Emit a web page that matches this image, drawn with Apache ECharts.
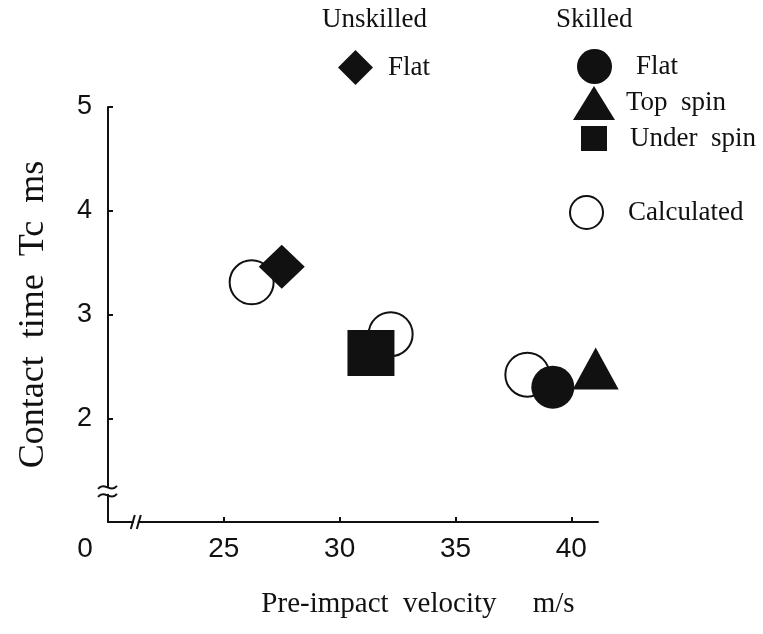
<!DOCTYPE html>
<html>
<head>
<meta charset="utf-8">
<script src="https://cdn.jsdelivr.net/npm/echarts@6/dist/echarts.min.js"></script>
<style>
  html, body { margin: 0; padding: 0; background: #fff; }
  #chart { width: 763px; height: 634px; }
</style>
</head>
<body>
<div id="chart"></div>
<script>
//
// Contact time Tc against pre-impact velocity
//
const calculated = [[26.2, 3.31], [32.2, 2.81], [38.1, 2.42]]
const unskilledFlat = [[27.5, 3.46]]
const skilledFlat = [[39.2, 2.30]]
const skilledTopSpin = [[41.05, 2.48]]
const skilledUnderSpin = [[31.35, 2.63]]

// x axis is broken below 25, its origin (20) is labelled 0
const xLabelValues = [20, 25, 30, 35, 40]
const xTickValues = [25, 30, 35, 40]
const yTickValues = [2, 3, 4, 5]

const legendText = {
  'Unskilled flat': 'Flat',
  'Skilled flat': 'Flat',
  'Top spin': 'Top  spin',
  'Under spin': 'Under  spin',
  Calculated: 'Calculated'
}

const ink = '#111'
const serif = 'Liberation Serif'
const sans = 'Liberation Sans'

const el = document.getElementById('chart')
const chart = echarts.init(el, null, { renderer: 'canvas', width: 763, height: 634 })

// one legend per entry so every icon keeps its own size
function legendEntry (name, icon, left, top, w, h, gap, itemStyle) {
  return {
    data: [{ name: name, icon: icon }],
    left: left,
    top: top,
    padding: 0,
    itemWidth: w,
    itemHeight: h,
    selectedMode: false,
    itemStyle: itemStyle || { color: ink, borderWidth: 0 },
    formatter: n => legendText[n],
    textStyle: { fontFamily: serif, fontSize: 27, color: ink, padding: [0, 0, 0, gap] }
  }
}

const option = {
  backgroundColor: '#fff',
  animation: false,
  title: [
    { text: 'Unskilled', left: 322, top: 6, padding: 0, textStyle: { fontFamily: serif, fontSize: 27, fontWeight: 'normal', color: ink } },
    { text: 'Skilled', left: 556, top: 6, padding: 0, textStyle: { fontFamily: serif, fontSize: 27, fontWeight: 'normal', color: ink } }
  ],
  legend: [
    legendEntry('Unskilled flat', 'diamond', 338, 50, 35, 35, 10),
    legendEntry('Skilled flat', 'circle', 577, 49, 35, 35, 19),
    legendEntry('Top spin', 'triangle', 573, 86, 42, 34, 6),
    legendEntry('Under spin', 'rect', 581, 125, 26, 25, 18),
    legendEntry('Calculated', 'circle', 569, 195, 33, 33, 20, { color: '#fff', borderColor: ink, borderWidth: 2 })
  ],
  grid: { left: 108, right: 165, top: 107, bottom: 112 },
  xAxis: {
    type: 'value',
    min: 20,
    max: 41.15,
    splitLine: { show: false },
    axisLine: { lineStyle: { color: ink, width: 2 } },
    axisTick: { inside: true, length: 5, customValues: xTickValues, lineStyle: { color: ink, width: 2 } },
    axisLabel: {
      customValues: xLabelValues,
      margin: 13,
      fontFamily: sans,
      fontSize: 28,
      color: ink,
      formatter: v => v === 20 ? '{o|0}' : String(v),
      rich: { o: { fontFamily: sans, fontSize: 28, color: ink, padding: [0, 46, 0, 0] } }
    },
    name: 'Pre-impact  velocity     m/s',
    nameLocation: 'middle',
    nameGap: 68,
    nameTextStyle: { fontFamily: serif, fontSize: 29, color: ink, padding: [0, 0, 0, 130] }
  },
  yAxis: {
    type: 'value',
    min: 1,
    max: 5,
    splitLine: { show: false },
    axisLine: { lineStyle: { color: ink, width: 2 } },
    axisTick: { inside: true, length: 5, customValues: yTickValues, lineStyle: { color: ink, width: 2 } },
    axisLabel: { customValues: yTickValues, margin: 16, fontFamily: sans, fontSize: 27, color: ink },
    name: 'Contact  time  Tc  ms',
    nameLocation: 'middle',
    nameGap: 56,
    nameTextStyle: { fontFamily: serif, fontSize: 36, color: ink }
  },
  series: [
    {
      name: 'Calculated',
      type: 'scatter',
      data: calculated,
      symbol: 'circle',
      symbolSize: 44,
      z: 1,
      itemStyle: { color: '#fff', borderColor: ink, borderWidth: 2, opacity: 1 }
    },
    {
      name: 'Unskilled flat',
      type: 'scatter',
      data: unskilledFlat,
      symbol: 'diamond',
      symbolSize: [46, 44],
      z: 2,
      itemStyle: { color: ink, opacity: 1 }
    },
    {
      name: 'Skilled flat',
      type: 'scatter',
      data: skilledFlat,
      symbol: 'circle',
      symbolSize: 43,
      z: 2,
      itemStyle: { color: ink, opacity: 1 }
    },
    {
      name: 'Top spin',
      type: 'scatter',
      data: skilledTopSpin,
      symbol: 'triangle',
      symbolSize: [46, 42],
      clip: false,
      z: 2,
      itemStyle: { color: ink, opacity: 1 }
    },
    {
      name: 'Under spin',
      type: 'scatter',
      data: skilledUnderSpin,
      symbol: 'rect',
      symbolSize: [47, 46],
      z: 2,
      itemStyle: { color: ink, opacity: 1 }
    }
  ]
}

chart.setOption(option)

//
// Axis break marks, placed through the axes' own scales
//
const yBreak = chart.convertToPixel({ gridIndex: 0 }, [20, 1.3])
const xBreak = chart.convertToPixel({ gridIndex: 0 }, [21.2, 1])
const lineStyle = { stroke: ink, lineWidth: 2, fill: null }

chart.setOption({
  graphic: [
    { type: 'rect', x: yBreak[0] - 3, y: yBreak[1] - 3, shape: { width: 6, height: 6 }, style: { fill: '#fff' }, z: 100 },
    { type: 'bezierCurve', x: yBreak[0], y: yBreak[1] - 4, shape: { x1: -10, y1: 2, x2: 9, y2: -1, cpx1: -3, cpy1: -6, cpx2: 2, cpy2: 7 }, style: lineStyle, z: 101 },
    { type: 'bezierCurve', x: yBreak[0], y: yBreak[1] + 4, shape: { x1: -10, y1: 2, x2: 9, y2: -1, cpx1: -3, cpy1: -6, cpx2: 2, cpy2: 7 }, style: lineStyle, z: 101 },
    { type: 'rect', x: xBreak[0] - 2, y: xBreak[1] - 3, shape: { width: 4, height: 6 }, style: { fill: '#fff' }, z: 100 },
    { type: 'line', x: xBreak[0], y: xBreak[1], shape: { x1: -5, y1: 7, x2: -1, y2: -7 }, style: lineStyle, z: 101 },
    { type: 'line', x: xBreak[0], y: xBreak[1], shape: { x1: 1, y1: 7, x2: 5, y2: -7 }, style: lineStyle, z: 101 }
  ]
})
</script>
</body>
</html>
